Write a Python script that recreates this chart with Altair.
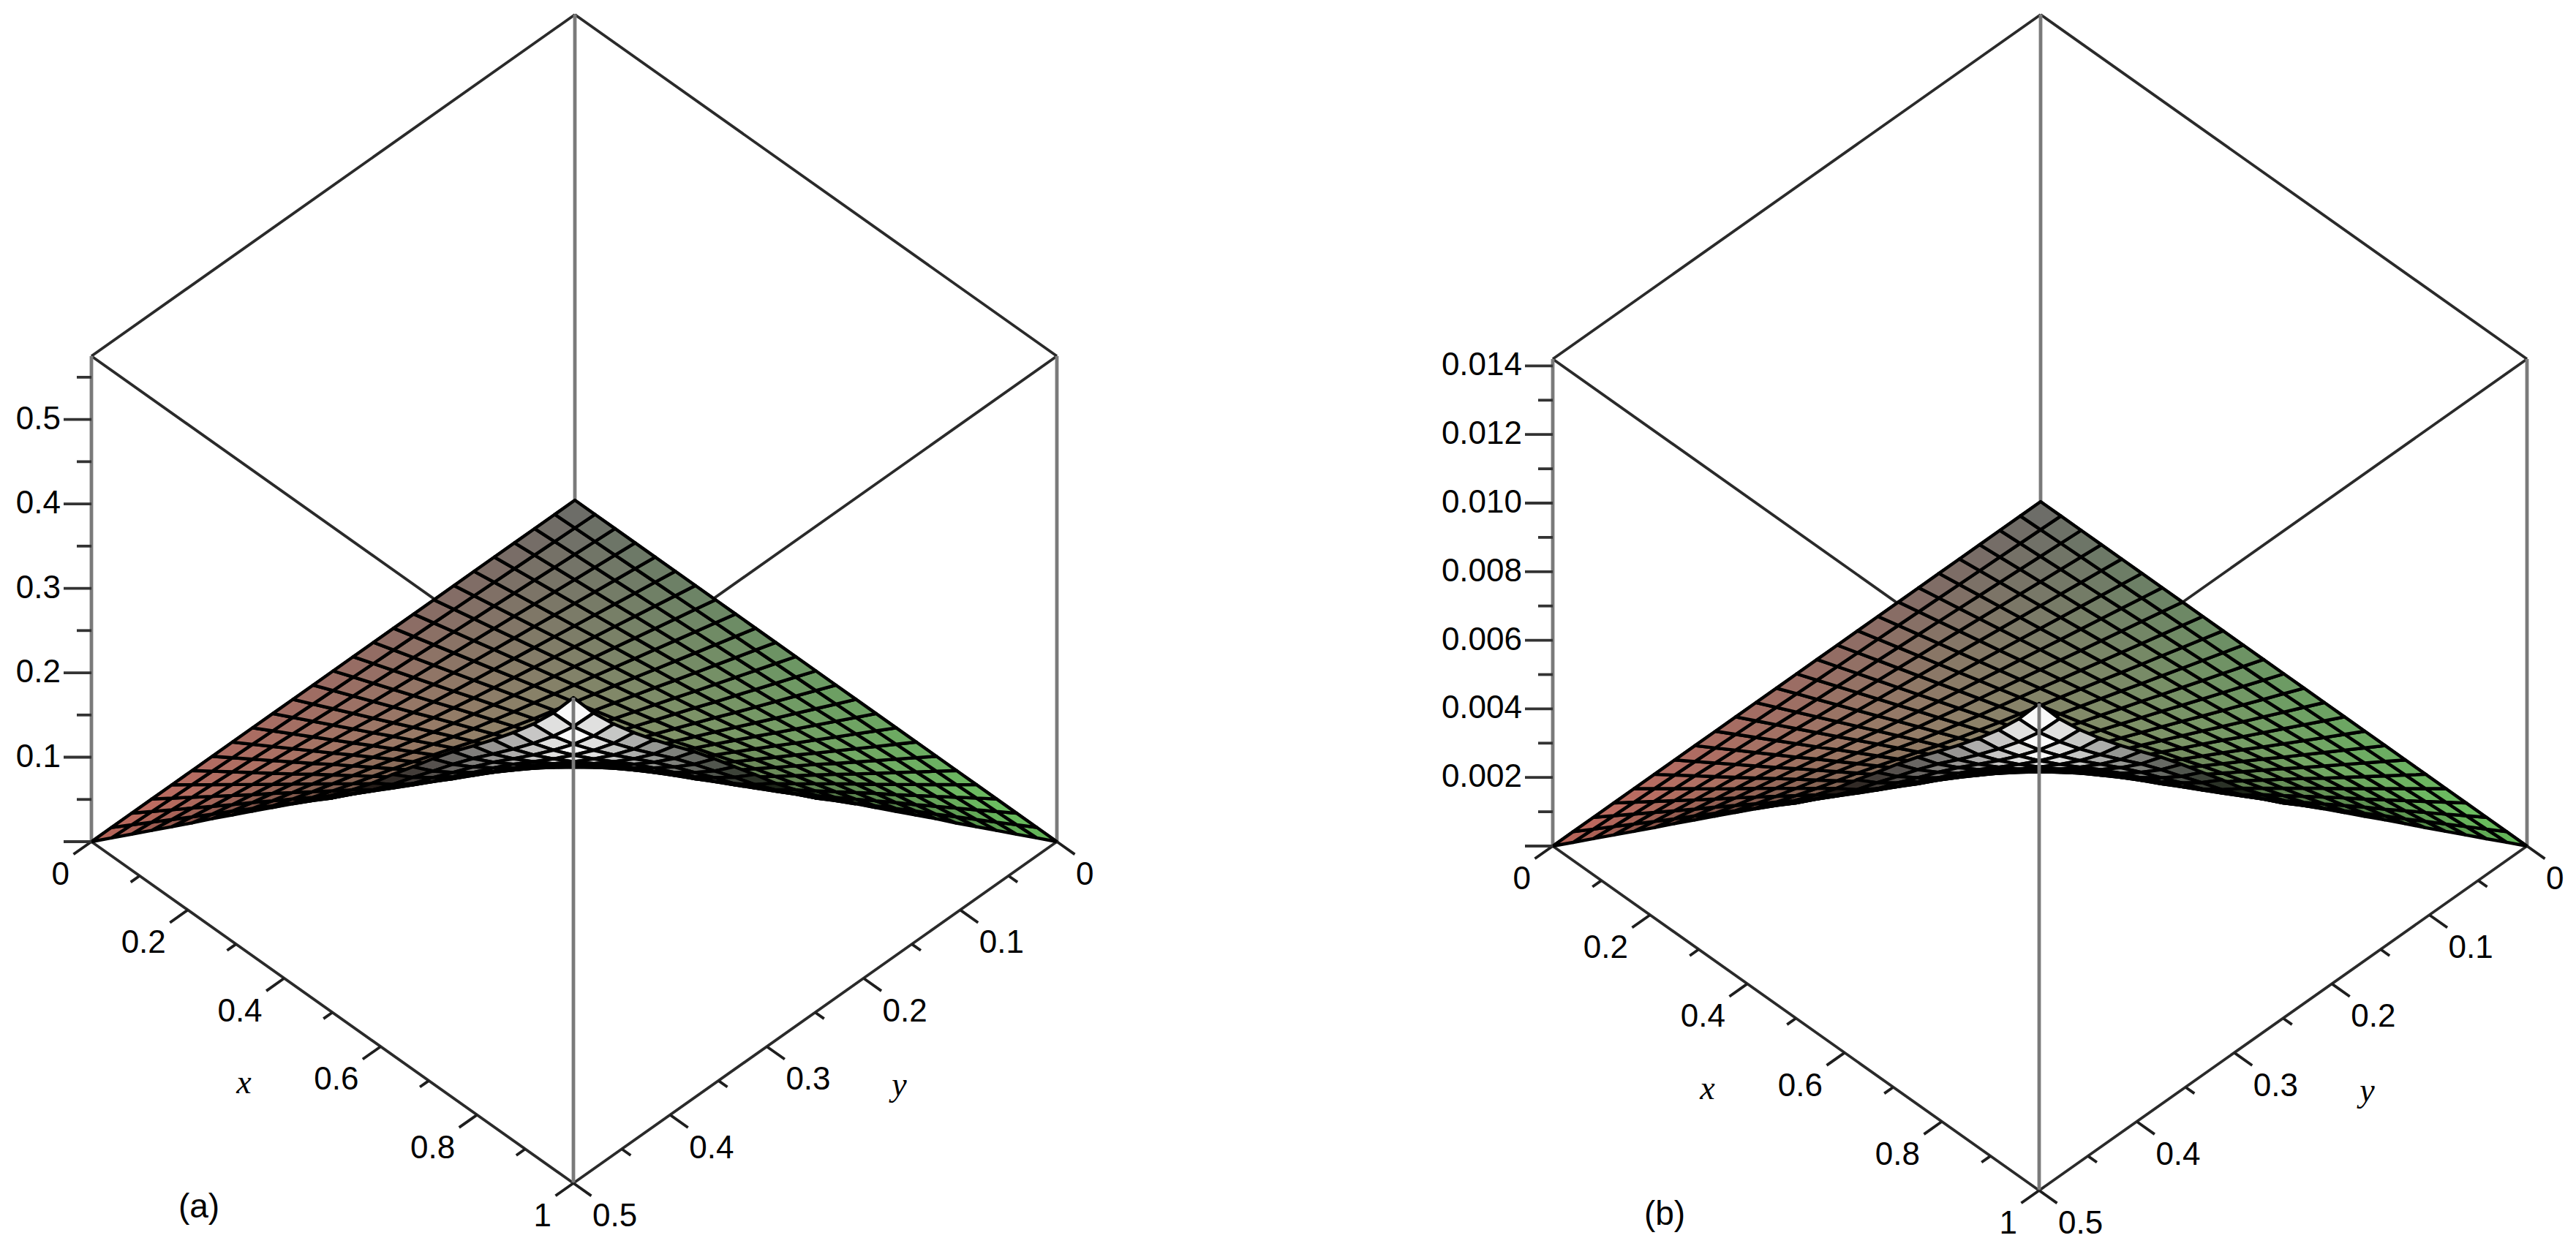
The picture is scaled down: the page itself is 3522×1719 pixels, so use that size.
import numpy as np
import pandas as pd
import altair as alt

# ---------------- data ----------------
grid_x = [0, 0.0417, 0.0833, 0.125, 0.1667, 0.2083, 0.25, 0.2917, 0.3333, 0.375, 0.4167,
          0.4583, 0.5, 0.5417, 0.5833, 0.625, 0.6667, 0.7083, 0.75, 0.7917, 0.8333, 0.875,
          0.9167, 0.9583, 1.0]
grid_y = [0, 0.0208, 0.0417, 0.0625, 0.0833, 0.1042, 0.125, 0.1458, 0.1667, 0.1875, 0.2083,
          0.2292, 0.25, 0.2708, 0.2917, 0.3125, 0.3333, 0.3542, 0.375, 0.3958, 0.4167, 0.4375,
          0.4583, 0.4792, 0.5]
# relative height of the surface along x (at y = 0.5) and along y (at x = 1)
profile_x = [0, 0.037, 0.074, 0.111, 0.148, 0.185, 0.223, 0.260, 0.297, 0.334, 0.371, 0.408,
             0.448, 0.488, 0.531, 0.578, 0.623, 0.669, 0.713, 0.754, 0.796, 0.840, 0.887,
             0.939, 1.0]
profile_y = [0, 0.037, 0.074, 0.111, 0.148, 0.185, 0.223, 0.260, 0.297, 0.334, 0.371, 0.408,
             0.448, 0.488, 0.531, 0.578, 0.623, 0.669, 0.713, 0.754, 0.796, 0.840, 0.887,
             0.939, 1.0]
peak_a = 0.575
peak_b = 0.0142

x_ticks_major = [0, 0.2, 0.4, 0.6, 0.8, 1.0]
x_tick_labels = ["0", "0.2", "0.4", "0.6", "0.8", "1"]
x_ticks_minor = [0.1, 0.3, 0.5, 0.7, 0.9]
y_ticks_major = [0, 0.1, 0.2, 0.3, 0.4, 0.5]
y_tick_labels = ["0", "0.1", "0.2", "0.3", "0.4", "0.5"]
y_ticks_minor = [0.05, 0.15, 0.25, 0.35, 0.45]
z_ticks_major_a = [0, 0.1, 0.2, 0.3, 0.4, 0.5]
z_tick_labels_a = ["", "0.1", "0.2", "0.3", "0.4", "0.5"]
z_ticks_minor_a = [0.05, 0.15, 0.25, 0.35, 0.45, 0.55]
z_ticks_major_b = [0, 0.002, 0.004, 0.006, 0.008, 0.010, 0.012, 0.014]
z_tick_labels_b = ["", "0.002", "0.004", "0.006", "0.008", "0.010", "0.012", "0.014"]
z_ticks_minor_b = [0.001, 0.003, 0.005, 0.007, 0.009, 0.011, 0.013]
panel_labels = ["(a)", "(b)"]
axis_names = ["x", "y"]

X_MAX, Y_MAX = 1.0, 0.5

# ---------------- layout / style ----------------
W, H = 3500, 1695
M = 8  # page margin
PANELS = [
    dict(origin=(786, 684), ex=(659, 467), ey=(-661, 467), ez=(0, -664), peak=peak_a,
         zmaj=z_ticks_major_a, zlab=z_tick_labels_a, zmin=z_ticks_minor_a, label=panel_labels[0]),
    dict(origin=(2790, 686), ex=(665, 471), ey=(-667, 471), ez=(0, -666), peak=peak_b,
         zmaj=z_ticks_major_b, zlab=z_tick_labels_b, zmin=z_ticks_minor_b, label=panel_labels[1]),
]


def proj(p, x, y, z):
    X, Y, Z = x / X_MAX, y / Y_MAX, z / p["peak"]
    ox, oy = p["origin"]
    sx = ox + X * p["ex"][0] + Y * p["ey"][0] + Z * p["ez"][0] - M
    sy = oy + X * p["ex"][1] + Y * p["ey"][1] + Z * p["ez"][1] - M
    return sx, sy


def view_dir(p):
    r1 = np.array([p["ex"][0], p["ey"][0], p["ez"][0]], float)
    r2 = np.array([p["ex"][1], p["ey"][1], p["ez"][1]], float)
    d = np.cross(r1, r2)
    return d / np.linalg.norm(d)


def surf_rgb(X, Y):
    r = 108 + 92 * Y * (1 - X) + 30 * X * Y
    g = 108 + 92 * X * (1 - Y) + 30 * X * Y
    b = 104 + 12 * X * Y - 8 * abs(X - Y)
    return np.array([r, g, b])


def hexcol(rgb):
    rgb = np.clip(rgb, 0, 255).astype(int)
    return "#%02x%02x%02x" % tuple(rgb)


def back_rgb(X, Y):
    # underside seen through the fold: bright near the far corner, dark along the rim
    t = float(np.clip(1.0 - abs(X - Y) / 0.42, 0.0, 1.0)) ** 1.2
    dark = surf_rgb(X, Y) * 0.22
    return dark * (1 - t) + np.array([250, 250, 250]) * t


features = []
rules_back, rules_front, ticks = [], [], []
txt_right, txt_left, txt_center, txt_italic = [], [], [], []

for p in PANELS:
    zs = p["peak"] * np.outer(np.array(profile_x), np.array(profile_y))
    d = view_dir(p)
    front, back = [], []
    ref_area = None
    for i in range(len(grid_x) - 1):
        for j in range(len(grid_y) - 1):
            corners = [(i, j), (i + 1, j), (i + 1, j + 1), (i, j + 1)]
            pts = [proj(p, grid_x[a], grid_y[b], zs[a, b]) for a, b in corners]
            area = 0.0
            for k in range(4):
                x1, y1 = pts[k]
                x2, y2 = pts[(k + 1) % 4]
                area += x1 * y2 - x2 * y1
            if ref_area is None:
                ref_area = area
            Xc = np.mean([grid_x[a] for a, b in corners]) / X_MAX
            Yc = np.mean([grid_y[b] for a, b in corners]) / Y_MAX
            Zc = np.mean([zs[a, b] for a, b in corners]) / p["peak"]
            depth = d[0] * Xc + d[1] * Yc + d[2] * Zc
            ring = [[float(a), float(b)] for a, b in pts] + [[float(pts[0][0]), float(pts[0][1])]]
            ratio = area / ref_area
            if ratio > 0:
                shade = 0.42 + 0.58 * float(np.clip(ratio / 0.45, 0, 1)) ** 0.8
                front.append((depth, hexcol(surf_rgb(Xc, Yc) * shade), ring))
            else:
                back.append((depth, hexcol(back_rgb(Xc, Yc)), ring))
    front.sort(key=lambda q: -q[0])
    back.sort(key=lambda q: -q[0])
    for depth, col, ring in front + back:
        features.append({"type": "Feature", "fill": col,
                         "geometry": {"type": "Polygon", "coordinates": [ring]}})

    # box edges
    zt = p["peak"]
    corners2 = [(0, 0), (X_MAX, 0), (X_MAX, Y_MAX), (0, Y_MAX)]
    for z in (0, zt):
        for k in range(4):
            a, b = corners2[k], corners2[(k + 1) % 4]
            x1, y1 = proj(p, a[0], a[1], z)
            x2, y2 = proj(p, b[0], b[1], z)
            rules_back.append(dict(x1=x1, y1=y1, x2=x2, y2=y2, col="#2a2a2a", w=3.8))
    for (cx, cy) in corners2:
        x1, y1 = proj(p, cx, cy, 0)
        x2, y2 = proj(p, cx, cy, zt)
        row = dict(x1=x1, y1=y1, x2=x2, y2=y2, col="#7a7a7a", w=4.8)
        if cx == X_MAX and cy == Y_MAX:
            rules_front.append(row)
        else:
            rules_back.append(row)

    # unit directions for ticks
    uex = np.array(p["ex"], float) / np.hypot(*p["ex"])
    uey = np.array(p["ey"], float) / np.hypot(*p["ey"])
    # x axis (y = 0.5, z = 0)
    for vals, L in ((x_ticks_major, 30), (x_ticks_minor, 15)):
        for v in vals:
            x1, y1 = proj(p, v, Y_MAX, 0)
            ticks.append(dict(x1=x1, y1=y1, x2=x1 + L * uey[0], y2=y1 + L * uey[1], col="#1e1e1e", w=3.8))
    for v, lab in zip(x_ticks_major, x_tick_labels):
        x1, y1 = proj(p, v, Y_MAX, 0)
        txt_right.append(dict(tx=x1 - 30, ty=y1 + 46, text=lab))
    # y axis (x = 1, z = 0)
    for vals, L in ((y_ticks_major, 30), (y_ticks_minor, 15)):
        for v in vals:
            x1, y1 = proj(p, X_MAX, v, 0)
            ticks.append(dict(x1=x1, y1=y1, x2=x1 + L * uex[0], y2=y1 + L * uex[1], col="#1e1e1e", w=3.8))
    for v, lab in zip(y_ticks_major, y_tick_labels):
        x1, y1 = proj(p, X_MAX, v, 0)
        txt_left.append(dict(tx=x1 + 26, ty=y1 + 46, text=lab))
    # z axis (x = 0, y = 0.5)
    for vals, L in ((p["zmaj"], 38), (p["zmin"], 20)):
        for v in vals:
            x1, y1 = proj(p, 0, Y_MAX, v)
            ticks.append(dict(x1=x1, y1=y1, x2=x1 - L, y2=y1, col="#333333", w=3.8))
    for v, lab in zip(p["zmaj"], p["zlab"]):
        if lab:
            x1, y1 = proj(p, 0, Y_MAX, v)
            txt_right.append(dict(tx=x1 - 42, ty=y1, text=lab))
    # axis names and panel label
    x1, y1 = proj(p, X_MAX / 2, Y_MAX, 0)
    txt_italic.append(dict(tx=x1 - 121, ty=y1 + 96, text=axis_names[0]))
    x1, y1 = proj(p, X_MAX, Y_MAX / 2, 0)
    txt_italic.append(dict(tx=x1 + 115, ty=y1 + 99, text=axis_names[1]))
    x1, y1 = proj(p, X_MAX, Y_MAX, 0)
    txt_center.append(dict(tx=x1 - 512, ty=y1 + 33, text=p["label"]))

SX = alt.Scale(domain=[0, W], nice=False, zero=False)
SY = alt.Scale(domain=[H, 0], nice=False, zero=False)


def rule_layer(rows):
    return alt.Chart(pd.DataFrame(rows)).mark_rule(strokeCap="butt").encode(
        x=alt.X("x1:Q", scale=SX, axis=None),
        y=alt.Y("y1:Q", scale=SY, axis=None),
        x2="x2:Q", y2="y2:Q",
        color=alt.Color("col:N", scale=None),
        strokeWidth=alt.StrokeWidth("w:Q", scale=None),
    )


def text_layer(rows, **kw):
    return alt.Chart(pd.DataFrame(rows)).mark_text(baseline="middle", color="#000000", **kw).encode(
        x=alt.X("tx:Q", scale=SX, axis=None),
        y=alt.Y("ty:Q", scale=SY, axis=None),
        text="text:N",
    )


surface = alt.Chart(alt.Data(values=features)).mark_geoshape(
    stroke="#000000", strokeWidth=4.4, strokeJoin="round"
).encode(fill=alt.Fill("fill:N", scale=None)).project(type="identity", scale=1, translate=[0, 0])

chart = alt.layer(
    rule_layer(rules_back),
    surface,
    rule_layer(rules_front),
    rule_layer(ticks),
    text_layer(txt_right, align="right", font="Liberation Sans", fontSize=44),
    text_layer(txt_left, align="left", font="Liberation Sans", fontSize=44),
    text_layer(txt_center, align="center", font="Liberation Sans", fontSize=46),
    text_layer(txt_italic, align="center", font="Liberation Serif", fontSize=46, fontStyle="italic"),
).properties(width=W, height=H, padding=0, autosize="none").configure_view(stroke=None)

chart.save("out.html", embed_options={"renderer": "svg", "actions": False})
